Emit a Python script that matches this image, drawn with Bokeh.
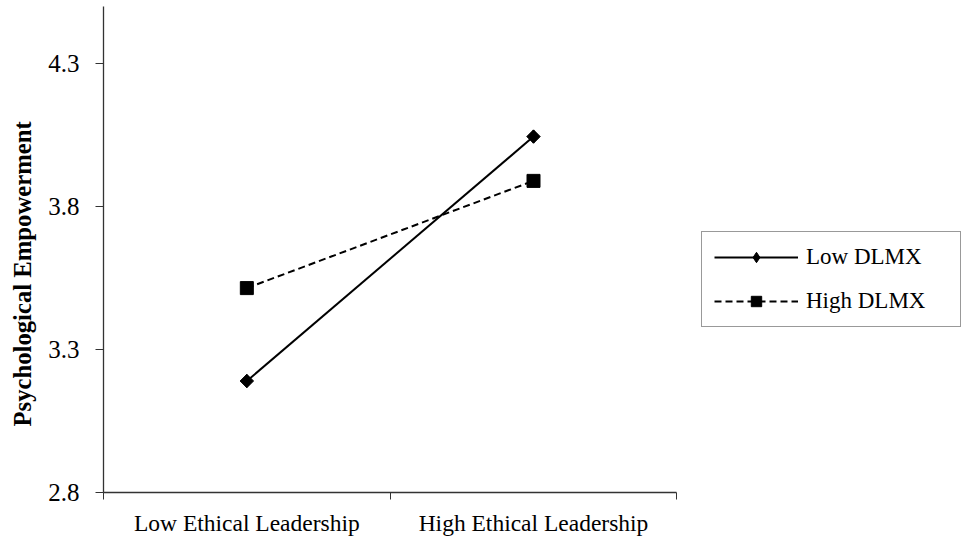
import math
from bokeh.plotting import figure
from bokeh.models import FixedTicker, Range1d, Legend, LegendItem, Title
from bokeh.embed import file_html
from bokeh.resources import INLINE

# ---- data ----
categories = ["Low Ethical Leadership", "High Ethical Leadership"]
low_dlmx = [3.19, 4.045]
high_dlmx = [3.515, 3.89]
series_names = ["Low DLMX", "High DLMX"]
y_ticks = [2.8, 3.3, 3.8, 4.3]
y_title = "Psychological Empowerment"

n = len(categories)
x_pos = [i + 0.5 for i in range(n)]
boundaries = list(range(n + 1))

FONT = "Liberation Serif"
AXC = "#333333"

# frame spans the legend area too; the x axis is bounded to the category span
p = figure(width=966, height=538, output_backend="svg", toolbar_location=None,
           x_range=Range1d(0, n * 1.5), y_range=Range1d(2.8, 4.5),
           min_border_left=103, min_border_right=3, min_border_top=6,
           min_border_bottom=44)
p.outline_line_color = None
p.grid.visible = False
p.background_fill_color = "white"
p.border_fill_color = "white"

# x axis: labels at category centers, tick marks at boundaries
xa = p.xaxis[0]
xa.bounds = (0, n)
xa.ticker = FixedTicker(ticks=x_pos, minor_ticks=boundaries)
xa.major_label_overrides = {x: c for x, c in zip(x_pos, categories)}
xa.major_tick_out = 0
xa.major_tick_in = 0
xa.minor_tick_out = 7
xa.minor_tick_in = 0
xa.minor_tick_line_color = AXC
xa.axis_line_color = AXC
xa.axis_line_width = 1.3
xa.major_label_text_font = FONT
xa.major_label_text_font_size = "23.5px"
xa.major_label_text_color = "black"
xa.major_label_standoff = 10

# y axis
ya = p.yaxis[0]
ya.ticker = FixedTicker(ticks=y_ticks, minor_ticks=[])
ya.major_label_overrides = {t: f"{t:.1f}" for t in y_ticks}
ya.major_tick_out = 8
ya.major_tick_in = 0
ya.major_tick_line_color = AXC
ya.axis_line_color = AXC
ya.axis_line_width = 1.3
ya.major_label_text_font = FONT
ya.major_label_text_font_size = "25px"
ya.major_label_text_color = "black"
ya.major_label_standoff = 16

# y title as a left-side title so it can sit below the frame centre
yt = Title(text=y_title, align="left", offset=66, standoff=16,
           text_font=FONT, text_font_size="24.7px", text_font_style="bold",
           text_color="black", vertical_align="top")
p.add_layout(yt, "left")

# series
l1 = p.line(x_pos, low_dlmx, line_color="black", line_width=2)
d1 = p.scatter(x_pos, low_dlmx, marker="diamond", size=13,
               fill_color="black", line_color="black")
m1 = p.scatter(x_pos, low_dlmx, marker="square", size=9.5, angle=math.pi / 4,
               fill_color="black", line_color="black")
l2 = p.line(x_pos, high_dlmx, line_color="black", line_width=2, line_dash="7 4")
m2 = p.scatter(x_pos, high_dlmx, marker="square", size=13,
               fill_color="black", line_color="black")

legend = Legend(items=[LegendItem(label=series_names[0], renderers=[l1, d1]),
                       LegendItem(label=series_names[1], renderers=[l2, m2])],
                location=(598, 165))
legend.label_text_font = FONT
legend.label_text_font_size = "23px"
legend.label_text_color = "black"
legend.glyph_width = 84
legend.glyph_height = 26
legend.label_height = 26
legend.label_width = 142
legend.label_standoff = 8
legend.padding = 12
legend.spacing = 18
legend.margin = 0
legend.border_line_color = AXC
legend.border_line_width = 1.3
legend.background_fill_color = "white"
legend.background_fill_alpha = 1
p.add_layout(legend, "center")

open("out.html", "w").write(file_html(p, INLINE))
